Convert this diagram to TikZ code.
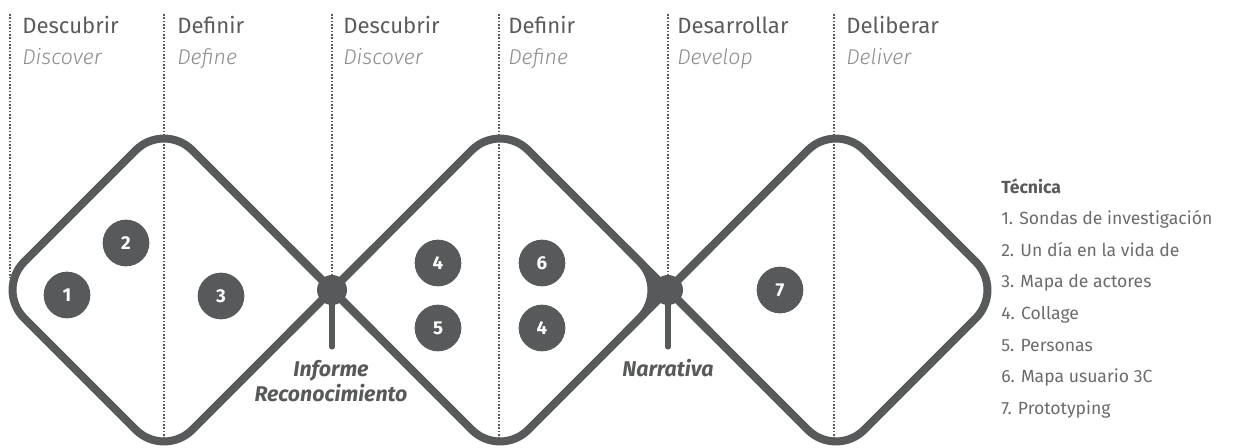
\documentclass[tikz,border=0pt]{standalone}
\usetikzlibrary{calc}
\usepackage{fontspec}
\setmainfont{Fira Sans}
\newfontfamily\lightfont{Fira Sans Light}
\definecolor{dg}{HTML}{58595B}
\definecolor{tg}{HTML}{5A5B5D}
\definecolor{lg}{HTML}{8A8B8E}
\definecolor{listg}{HTML}{6A6B6E}
\begin{document}
\begin{tikzpicture}[x=0.75pt,y=-0.75pt,
  dotline/.style={dg, line width=1.6pt, dash pattern=on 1.3pt off 1.2pt},
  loop/.style={dg, line width=6pt, rounded corners=30pt, line cap=butt},
  numdot/.style={circle, fill=dg, minimum size=35pt, inner sep=0pt, text=white, font=\fontsize{14}{16}\selectfont\bfseries},
  junc/.style={circle, fill=dg, minimum size=22.5pt, inner sep=0pt},
  stem/.style={dg, line width=3.8pt, line cap=round},
  phase/.style={anchor=base west, inner sep=0pt, text=tg, font=\fontsize{16.6}{18}\selectfont},
  phaseen/.style={anchor=base west, inner sep=0pt, text=lg, font=\fontsize{16}{18}\selectfont\lightfont\itshape},
  outcome/.style={align=center, inner sep=0pt, text=dg, font=\fontsize{16}{19}\selectfont\bfseries\itshape},
  listitem/.style={anchor=base west, inner sep=0pt, text=listg, font=\fontsize{13.2}{16}\selectfont}]
\useasboundingbox (0,0) rectangle (1243,447);

% dotted phase lines
\coordinate (t1) at (10,14);  \coordinate (e1) at (10,278);
\coordinate (t2) at (164,14); \coordinate (e2) at (164,440);
\coordinate (t3) at (332,14);
\coordinate (t4) at (499,14); \coordinate (e4) at (499,440);
\coordinate (t5) at (668,14);
\coordinate (t6) at (834,14); \coordinate (e6) at (834,440);

% junctions
\coordinate (J1c) at (332,290);
\coordinate (J2c) at (668,290);

\draw[dotline] (t1) -- (e1);
\draw[dotline] (t2) -- (e2);
\draw[dotline] (t3) -- (J1c);
\draw[dotline] (t4) -- (e4);
\draw[dotline] (t5) -- (J2c);
\draw[dotline] (t6) -- (e6);

% diamond vertices
\coordinate (a1) at (164,122); \coordinate (l1) at (-4,290); \coordinate (b1) at (164,458);
\coordinate (a2) at (500,122); \coordinate (b2) at (500,458);
\coordinate (a3) at (836,122); \coordinate (r3) at (1004,290); \coordinate (b3) at (836,458);

\draw[loop] (J1c) -- (a1) -- (l1) -- (b1) -- (J1c);
\draw[loop] (J1c) -- (a2) -- (J2c) -- (b2) -- (J1c);
\draw[loop] (J2c) -- (a3) -- (r3) -- (b3) -- (J2c);
% crossing points kept sharp
\draw[dg, line width=6pt] ($(J1c)!0.25!(a2)$) -- (J1c) -- ($(J1c)!0.25!(b1)$);
\draw[dg, line width=6pt] ($(J1c)!0.25!(a1)$) -- (J1c) -- ($(J1c)!0.25!(b2)$);
\draw[dg, line width=6pt] ($(J2c)!0.25!(a3)$) -- (J2c) -- ($(J2c)!0.25!(b2)$);
\draw[dg, line width=6pt] ($(J2c)!0.25!(a2)$) -- (J2c) -- ($(J2c)!0.25!(b3)$);

% junction dots and stems
\coordinate (s1) at (332,347);
\coordinate (s2) at (668,347);
\draw[stem] (J1c) -- (s1);
\draw[stem] (J2c) -- (s2);
\node[junc] (J1) at (J1c) {};
\node[junc] (J2) at (J2c) {};

\node[outcome] (inf) at (331,381) {Informe\\Reconocimiento};
\node[outcome] (nar) at (668,368) {Narrativa};

% numbered techniques
\node[numdot] (n1) at (67,295) {1};
\node[numdot] (n2) at (126,243) {2};
\node[numdot] (n3) at (221,296) {3};
\node[numdot] (n4a) at (438,263) {4};
\node[numdot] (n5) at (438,328) {5};
\node[numdot] (n6) at (542,263) {6};
\node[numdot] (n4b) at (542,328) {4};
\node[numdot] (n7) at (780,290) {7};

% phase headers
\node[phase] (h1) at (22,33) {Descubrir};
\node[phaseen] (g1) at (22,64) {Discover};
\node[phase] (h2) at (177,33) {Definir};
\node[phaseen] (g2) at (177,64) {Define};
\node[phase] (h3) at (343,33) {Descubrir};
\node[phaseen] (g3) at (343,64) {Discover};
\node[phase] (h4) at (508,33) {Definir};
\node[phaseen] (g4) at (508,64) {Define};
\node[phase] (h5) at (677,33) {Desarrollar};
\node[phaseen] (g5) at (677,64) {Develop};
\node[phase] (h6) at (846,33) {Deliberar};
\node[phaseen] (g6) at (846,64) {Deliver};

% legend
\node[listitem, text=dg, font=\fontsize{13.2}{16}\selectfont\bfseries] (lt) at (1001,193) {Técnica};
\node[listitem] (l1t) at (1001,224) {1. Sondas de investigación};
\node[listitem] (l2t) at (1001,256) {2. Un día en la vida de};
\node[listitem] (l3t) at (1001,287) {3. Mapa de actores};
\node[listitem] (l4t) at (1001,319) {4. Collage};
\node[listitem] (l5t) at (1001,351) {5. Personas};
\node[listitem] (l6t) at (1001,382) {6. Mapa usuario 3C};
\node[listitem] (l7t) at (1001,414) {7. Prototyping};
\end{tikzpicture}
\end{document}
